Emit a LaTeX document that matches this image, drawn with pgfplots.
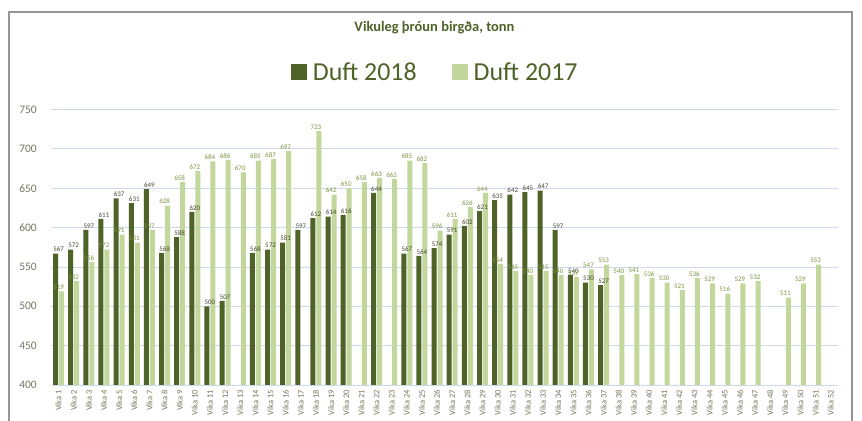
\documentclass[border=0pt]{standalone}
\usepackage{pgfplots}
\pgfplotsset{compat=1.18}
\usepackage{fontspec}
\setmainfont{Carlito}
\definecolor{darkbar}{RGB}{79,98,40}
\definecolor{lightbar}{RGB}{195,214,155}
\definecolor{darklbl}{RGB}{70,75,50}
\definecolor{lightlbl}{RGB}{125,150,65}
\definecolor{titlecol}{RGB}{79,98,40}
\definecolor{tickcol}{RGB}{115,120,95}
\definecolor{gridcol}{RGB}{205,218,238}
\definecolor{framecol}{RGB}{150,150,150}
\begin{document}
\begin{tikzpicture}
\useasboundingbox (0,0) rectangle (862bp,421bp);
\fill[white] (0,0) rectangle (862bp,421bp);
\draw[framecol, line width=2bp] (9bp,-5bp) -- (9bp,409bp) -- (852bp,409bp) -- (852bp,-5bp);
\begin{axis}[
  at={(51bp,36bp)}, anchor=south west,
  scale only axis, width=787.3bp, height=275.5bp,
  xmin=0.5, xmax=52.5, ymin=400, ymax=750,
  clip=false,
  /pgf/number format/assume math mode=true,
  ytick={400,450,...,750},
  xtick={1,...,52},
  xticklabels={Vika 1,Vika 2,Vika 3,Vika 4,Vika 5,Vika 6,Vika 7,Vika 8,Vika 9,Vika 10,Vika 11,Vika 12,Vika 13,Vika 14,Vika 15,Vika 16,Vika 17,Vika 18,Vika 19,Vika 20,Vika 21,Vika 22,Vika 23,Vika 24,Vika 25,Vika 26,Vika 27,Vika 28,Vika 29,Vika 30,Vika 31,Vika 32,Vika 33,Vika 34,Vika 35,Vika 36,Vika 37,Vika 38,Vika 39,Vika 40,Vika 41,Vika 42,Vika 43,Vika 44,Vika 45,Vika 46,Vika 47,Vika 48,Vika 49,Vika 50,Vika 51,Vika 52},
  xticklabel style={yshift=-5bp, rotate=90, anchor=east, inner sep=0pt, font=\fontsize{8.5}{10}\selectfont, text=tickcol},
  yticklabel style={anchor=east, inner sep=0pt, xshift=-14bp, font=\fontsize{11.5}{13}\selectfont, text=tickcol},
  major tick length=0pt,
  tick style={draw=none},
  axis line style={draw=none},
  ymajorgrids, grid style={gridcol, line width=0.8bp},
  title={Vikuleg þróun birgða, tonn},
  title style={at={(0.487,1.275)}, anchor=center, font=\bfseries\fontsize{14.5}{17}\selectfont, text=titlecol},
  legend columns=2,
  legend style={at={(0.488,1.136)}, anchor=center, draw=none, fill=none,
    font=\fontsize{26}{30}\selectfont, text=titlecol,
    /tikz/every odd column/.append style={column sep=4bp},
    /tikz/every even column/.append style={column sep=33bp}},
]
\addplot[ybar, bar width=5bp, bar shift=-3bp, fill=darkbar, draw=none,
  nodes near coords,
  every node near coord/.append style={font=\fontsize{7}{8}\selectfont, text=darklbl, inner sep=1.5bp},
  legend image code/.code={\fill[darkbar] (0bp,-8bp) rectangle (16bp,8bp);}
] coordinates {
(1,567) (2,572) (3,597) (4,611) (5,637) (6,631) (7,649) (8,568) (9,588) (10,620)
(11,500) (12,507) (14,568) (15,572) (16,581) (17,597) (18,612) (19,614) (20,616)
(22,644) (24,567) (25,564) (26,574) (27,591) (28,602) (29,621) (30,635) (31,642)
(32,645) (33,647) (34,597) (35,540) (36,530) (37,527)
};
\addlegendentry{Duft 2018}
\addplot[ybar, bar width=5bp, bar shift=3bp, fill=lightbar, draw=none,
  nodes near coords,
  every node near coord/.append style={font=\fontsize{7}{8}\selectfont, text=lightlbl, inner sep=1.5bp},
  legend image code/.code={\fill[lightbar] (0bp,-8bp) rectangle (16bp,8bp);}
] coordinates {
(1,519) (2,532) (3,556) (4,572) (5,591) (6,581) (7,597) (8,628) (9,658) (10,672)
(11,684) (12,686) (13,670) (14,685) (15,687) (16,697) (18,723) (19,642) (20,650)
(21,658) (22,663) (23,662) (24,685) (25,682) (26,596) (27,611) (28,626) (29,644)
(30,554) (31,545) (32,540) (33,545) (34,540) (35,537) (36,547) (37,553) (38,540)
(39,541) (40,536) (41,530) (42,521) (43,536) (44,529) (45,516) (46,529) (47,532)
(49,511) (50,529) (51,553)
};
\addlegendentry{Duft 2017}
\end{axis}
\end{tikzpicture}
\end{document}
